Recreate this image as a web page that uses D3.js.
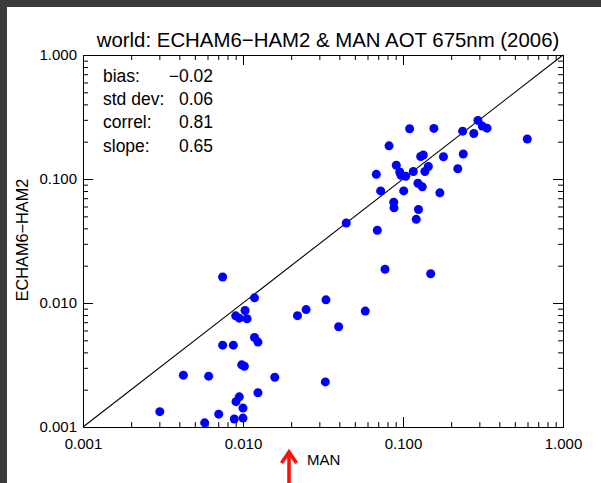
<!DOCTYPE html>
<html>
<head>
<meta charset="utf-8">
<script src="https://cdn.jsdelivr.net/npm/d3@7"></script>
<style>
  html, body { margin: 0; padding: 0; background: #ffffff; }
  svg { display: block; font-family: "Liberation Sans", Arial, Helvetica, sans-serif; }
</style>
</head>
<body>
<svg id="chart" width="601" height="483"></svg>
<script>
// AOT at 675nm, 2006: MAN (ship-borne) observations vs ECHAM6-HAM2 model
const manAOT = [
  0.00746, 0.0118, 0.0103, 0.0090, 0.00948, 0.0106, 0.0219, 0.0248, 0.0118, 0.0124,
  0.00746, 0.0087, 0.00982, 0.0102, 0.00424, 0.0061, 0.0158, 0.0124, 0.00948, 0.00904,
  0.0100, 0.00302, 0.00705, 0.00882, 0.0100, 0.00576,
  0.0330, 0.0581, 0.0396, 0.0327,
  0.294, 0.313, 0.335, 0.110, 0.156, 0.236, 0.277, 0.598, 0.0818, 0.129,
  0.134, 0.179, 0.238, 0.0908, 0.144, 0.220, 0.116, 0.137, 0.0954, 0.0972,
  0.104, 0.0681, 0.0725, 0.101, 0.124, 0.132, 0.170, 0.0875, 0.0879, 0.125,
  0.121, 0.0442, 0.0691, 0.0772, 0.149
];
const echamAOT = [
  0.0162, 0.0110, 0.0087, 0.00788, 0.00755, 0.00746, 0.00791, 0.00885, 0.00527, 0.00484,
  0.00457, 0.00457, 0.00317, 0.00309, 0.00262, 0.00257, 0.00252, 0.00189, 0.00175, 0.00160,
  0.00142, 0.00133, 0.00127, 0.00116, 0.00118, 0.00108,
  0.0106, 0.0086, 0.00643, 0.00231,
  0.297, 0.267, 0.257, 0.254, 0.256, 0.243, 0.233, 0.210, 0.185, 0.152,
  0.156, 0.151, 0.159, 0.129, 0.126, 0.121, 0.115, 0.115, 0.114, 0.107,
  0.105, 0.109, 0.0802, 0.0802, 0.0924, 0.0864, 0.0773, 0.0649, 0.0585, 0.0567,
  0.0473, 0.0442, 0.0386, 0.0187, 0.0172
];
const majorTicks = [0.001, 0.01, 0.1, 1];
const minorMultipliers = [2, 3, 4, 5, 6, 7, 8, 9];
const statNames = ["bias:", "std dev:", "correl:", "slope:"];
const statValues = ["\u22120.02", "0.06", "0.81", "0.65"];
const titleText = "world: ECHAM6\u2212HAM2 & MAN AOT 675nm (2006)";
const xTitle = "MAN";
const yTitle = "ECHAM6\u2212HAM2";

const svg = d3.select("#chart");
const W = 601, H = 483;
const plot = { left: 83, right: 563, top: 55, bottom: 427 };

// window frame strips
svg.append("rect").attr("x", 0).attr("y", 0).attr("width", W).attr("height", 7).attr("fill", "#3b3b3b");
svg.append("rect").attr("x", 0).attr("y", 0).attr("width", 7).attr("height", H).attr("fill", "#3b3b3b");

const x = d3.scaleLog().domain([0.001, 1]).range([plot.left, plot.right]);
const y = d3.scaleLog().domain([0.001, 1]).range([plot.bottom, plot.top]);

const minorTicks = [];
majorTicks.slice(0, -1).forEach(m => minorMultipliers.forEach(k => minorTicks.push(m * k)));

const fmt = d3.format(".3f");

function styleAxis(g) {
  g.selectAll("path.domain").attr("stroke", "#000").attr("stroke-width", 1);
  g.selectAll(".tick line").attr("stroke", "#000").attr("stroke-width", 1);
  g.selectAll("text").attr("fill", "#000").attr("font-size", 15)
    .attr("font-family", "'Liberation Sans', Arial, Helvetica, sans-serif");
}

// bottom axis: labelled majors + minors
svg.append("g").attr("transform", `translate(0,${plot.bottom})`)
  .call(d3.axisBottom(x).tickValues(majorTicks).tickFormat(fmt).tickSizeInner(-10).tickSizeOuter(0).tickPadding(11))
  .call(styleAxis);
svg.append("g").attr("transform", `translate(0,${plot.bottom})`)
  .call(d3.axisBottom(x).tickValues(minorTicks).tickFormat("").tickSizeInner(-5).tickSizeOuter(0))
  .call(styleAxis);
// top axis
svg.append("g").attr("transform", `translate(0,${plot.top})`)
  .call(d3.axisTop(x).tickValues(majorTicks).tickFormat("").tickSizeInner(-10).tickSizeOuter(0))
  .call(styleAxis);
svg.append("g").attr("transform", `translate(0,${plot.top})`)
  .call(d3.axisTop(x).tickValues(minorTicks).tickFormat("").tickSizeInner(-5).tickSizeOuter(0))
  .call(styleAxis);
// left axis
svg.append("g").attr("transform", `translate(${plot.left},0)`)
  .call(d3.axisLeft(y).tickValues(majorTicks).tickFormat(fmt).tickSizeInner(-10).tickSizeOuter(0).tickPadding(6))
  .call(styleAxis);
svg.append("g").attr("transform", `translate(${plot.left},0)`)
  .call(d3.axisLeft(y).tickValues(minorTicks).tickFormat("").tickSizeInner(-5).tickSizeOuter(0))
  .call(styleAxis);
// right axis
svg.append("g").attr("transform", `translate(${plot.right},0)`)
  .call(d3.axisRight(y).tickValues(majorTicks).tickFormat("").tickSizeInner(-10).tickSizeOuter(0))
  .call(styleAxis);
svg.append("g").attr("transform", `translate(${plot.right},0)`)
  .call(d3.axisRight(y).tickValues(minorTicks).tickFormat("").tickSizeInner(-5).tickSizeOuter(0))
  .call(styleAxis);

// 1:1 line
svg.append("line")
  .attr("x1", x(0.001)).attr("y1", y(0.001))
  .attr("x2", x(1)).attr("y2", y(1))
  .attr("stroke", "#000").attr("stroke-width", 1.1);

// station points
svg.append("g").selectAll("circle")
  .data(d3.range(manAOT.length))
  .join("circle")
  .attr("cx", i => x(manAOT[i]))
  .attr("cy", i => y(echamAOT[i]))
  .attr("r", 4.5)
  .attr("fill", "#0000ff");

// title
svg.append("text")
  .attr("x", 328).attr("y", 47)
  .attr("text-anchor", "middle")
  .attr("font-size", 20.4)
  .attr("fill", "#000")
  .text(titleText);

// statistics block
const stats = svg.append("g").attr("font-size", 17.5).attr("fill", "#000");
statNames.forEach((name, i) => {
  stats.append("text").attr("x", 103).attr("y", 82 + i * 23.2).text(name);
  stats.append("text").attr("x", 213).attr("y", 82 + i * 23.2)
    .attr("text-anchor", "end").text(statValues[i]);
});

// axis titles
svg.append("text")
  .attr("x", 307).attr("y", 465)
  .attr("font-size", 15).attr("fill", "#000")
  .text(xTitle);
svg.append("text")
  .attr("transform", "translate(27.5,240) rotate(-90)")
  .attr("text-anchor", "middle")
  .attr("font-size", 16.3).attr("fill", "#000")
  .text(yTitle);

// red pointer arrow under the x axis
const arrow = svg.append("g").attr("stroke", "#ff1010").attr("stroke-width", 3.6).attr("fill", "none");
arrow.append("line").attr("x1", 289).attr("y1", 483).attr("x2", 289).attr("y2", 452);
arrow.append("polyline").attr("points", "281.5,463 289,452 296.5,463")
  .attr("stroke-linejoin", "miter").attr("stroke-linecap", "butt");
</script>
</body>
</html>
